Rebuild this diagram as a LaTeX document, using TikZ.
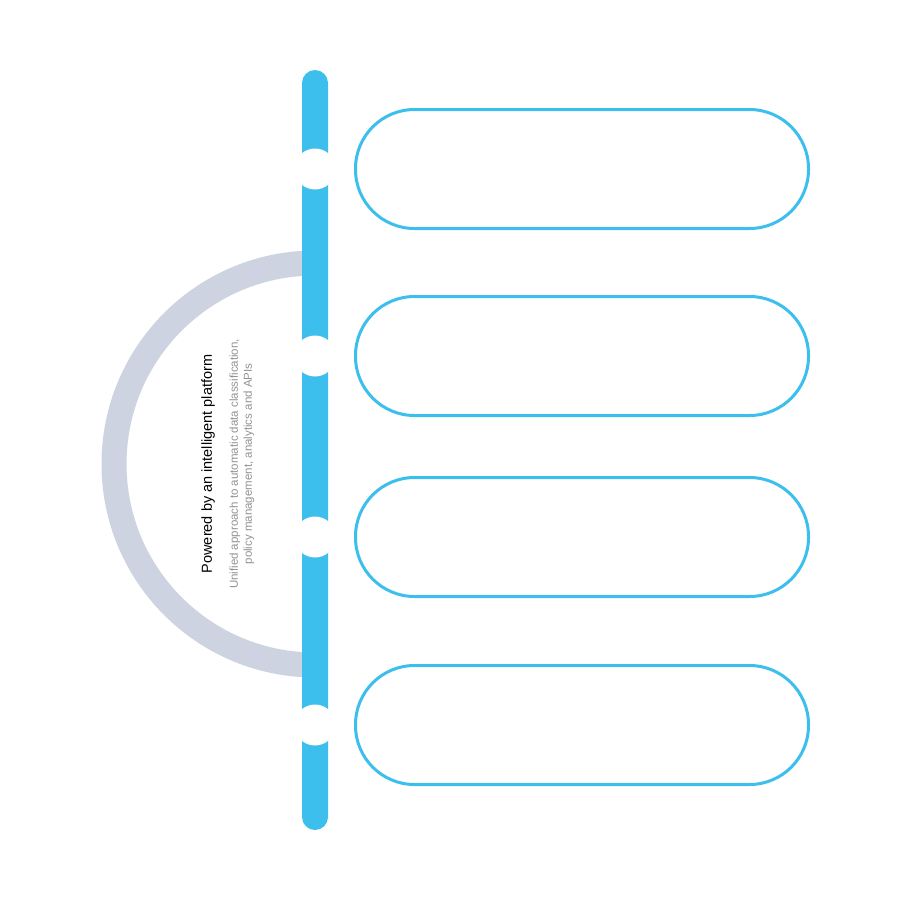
\documentclass[tikz,border=0pt]{standalone}
\usepackage{fontspec}
\setmainfont{Liberation Sans}
\definecolor{cy}{HTML}{3DBFEE}
\definecolor{ring}{HTML}{CDD3E0}
\begin{document}
\begin{tikzpicture}[x=1pt,y=-1pt,
  box/.style={draw=cy,line width=3pt,rounded corners=59pt,minimum width=453pt,minimum height=119pt,anchor=west},
  notch/.style={circle,fill=white,minimum size=41pt,inner sep=0}]
\useasboundingbox[fill=white] (0,0) rectangle (900,900);
\draw[ring,line width=25pt] (315,263) arc[start angle=-90,end angle=-270,radius=201];
\fill[cy,rounded corners=13pt] (302,70) rectangle (328,830);
\foreach \n/\y in {a/169,b/356,c/537,d/725}{
  \node[notch] (n\n) at (315,\y) {};
  \node[box] (b\n) at (354,\y) {};
}
\node[rotate=90,font=\fontsize{14.5}{18}\selectfont] (t) at (208,464) {Powered by an intelligent platform};
\node[rotate=90,align=center,text=gray!85,font=\fontsize{11.5}{14}\selectfont] (s) at (242,464) {Unified approach to automatic data classification,\\policy management, analytics and APIs};
\end{tikzpicture}
\end{document}
